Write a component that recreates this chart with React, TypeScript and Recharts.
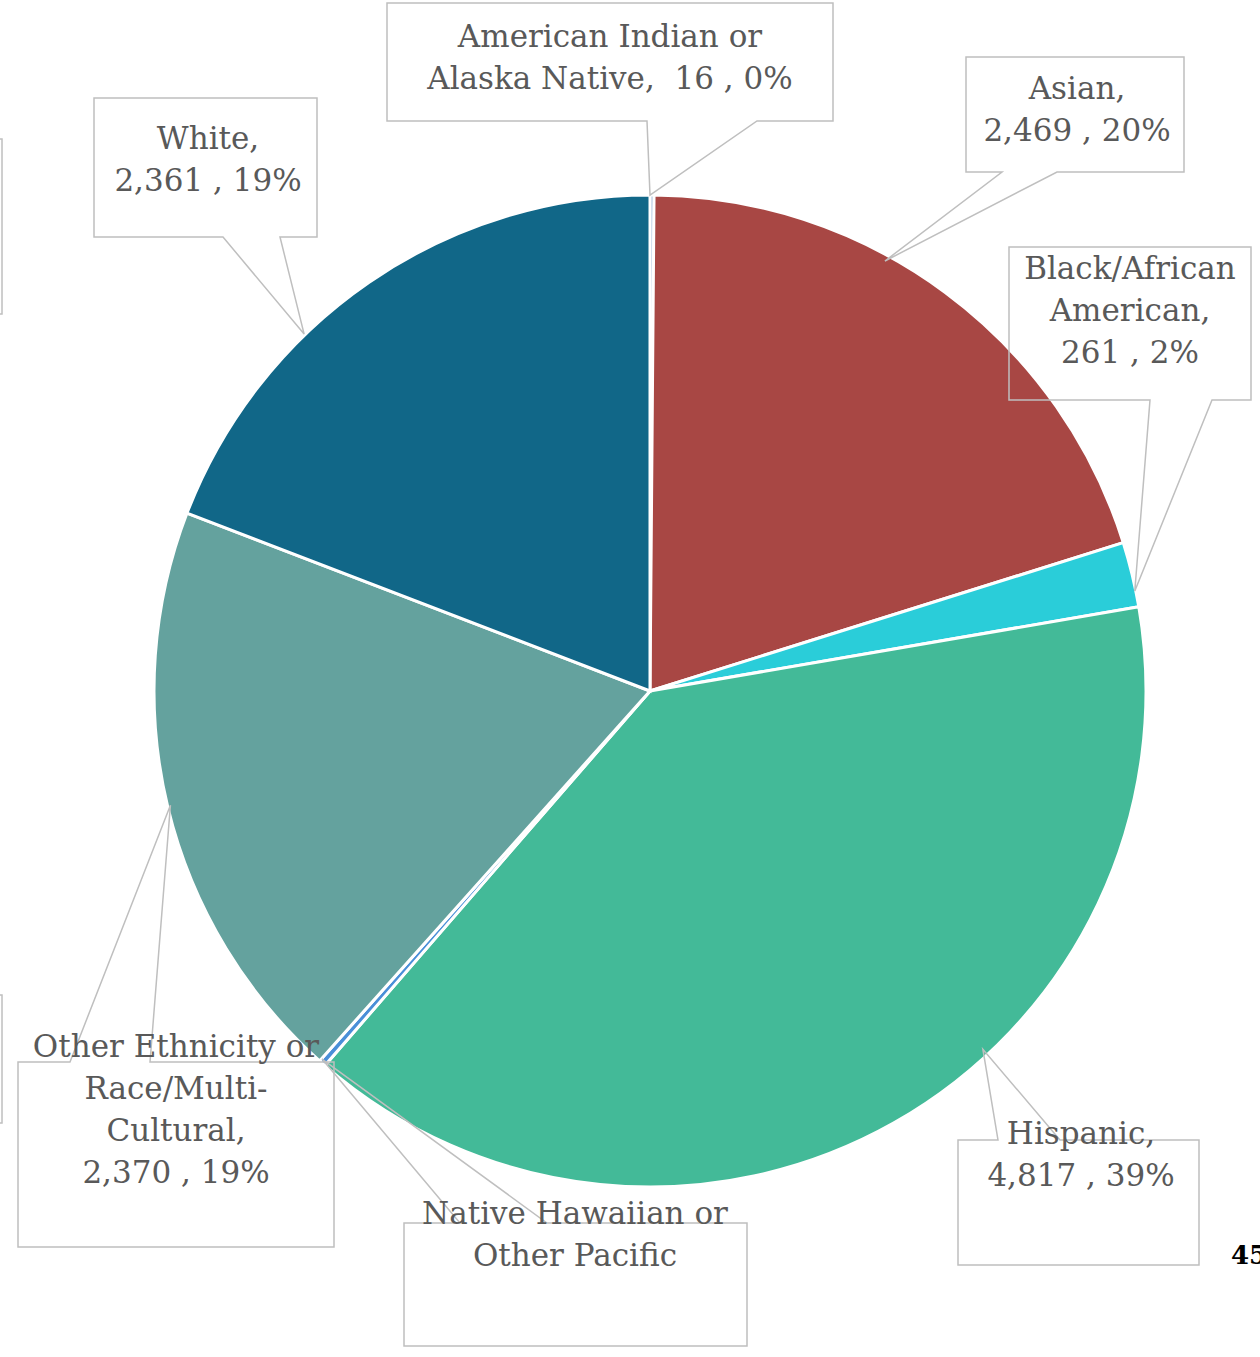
import { PieChart, Pie, Cell } from "recharts";

const categories = [
    "American Indian or Alaska Native",
    "Asian",
    "Black/African American",
    "Hispanic",
    "Native Hawaiian or Other Pacific Islander",
    "Other Ethnicity or Race/Multi-Cultural",
    "White",
];
const values = [16, 2469, 261, 4817, 28, 2370, 2361];
const colors = ["#4F81BD", "#A84744", "#2ACDD9", "#43BA98", "#4A8FD8", "#64A29E", "#116788"];
// how each label wraps; {v} gets "value , pct%"
const labelLines = [
    ["American Indian or", "Alaska Native,  {v}"],
    ["Asian,", "{v}"],
    ["Black/African", "American,", "{v}"],
    ["Hispanic,", "{v}"],
    ["Native Hawaiian or", "Other Pacific"],
    ["Other Ethnicity or", "Race/Multi-", "Cultural,", "{v}"],
    ["White,", "{v}"],
];

const data = categories.map((name, i) => ({ name, value: values[i] }));
const total = values.reduce((a, b) => a + b, 0);

// callout boxes: [x0, y0, x1, y1], which edge the wedge leaves from, wedge base x's,
// anchor (clock angle from top, radius) and text centre
const callouts = [
    { box: [387, 3, 833, 121], edge: "bottom", base: [647, 757], angle: 0, r: 496, tx: 610, ty: 36 },
    { box: [966, 57, 1184, 172], edge: "bottom", base: [1002, 1057], angle: 28.65, r: 490, tx: 1077, ty: 88 },
    { box: [1009, 247, 1251, 400], edge: "bottom", base: [1150, 1212], angle: 78.35, r: 495, tx: 1130, ty: 268 },
    { box: [958, 1140, 1199, 1265], edge: "top", base: [998, 1060], angle: 137.1, r: 489, tx: 1081, ty: 1133 },
    { box: [404, 1223, 747, 1346], edge: "top", base: [460, 547], angle: 221.7, r: 493, tx: 575, ty: 1213 },
    { box: [18, 1062, 334, 1247], edge: "top", base: [70, 150], angle: 256.6, r: 493, tx: 176, ty: 1046 },
    { box: [94, 98, 317, 237], edge: "bottom", base: [223, 280], angle: 315.9, r: 497, tx: 208, ty: 138 },
];

const FONT = "'DejaVu Serif', serif";
const LINE = "#BFBFBF";

function renderLabel(props: any) {
    const { cx, cy, index, value } = props;
    const c = callouts[index];
    const rad = (c.angle * Math.PI) / 180;
    const ax = cx + c.r * Math.sin(rad);
    const ay = cy - c.r * Math.cos(rad);
    const [x0, y0, x1, y1] = c.box;
    const [b1, b2] = c.base;
    const d =
        c.edge === "bottom"
            ? `M${x0},${y0} H${x1} V${y1} H${b2} L${ax},${ay} L${b1},${y1} H${x0} Z`
            : `M${x0},${y0} H${b1} L${ax},${ay} L${b2},${y0} H${x1} V${y1} H${x0} Z`;
    const v = `${value.toLocaleString("en-US")} , ${Math.round((value / total) * 100)}%`;
    return (
        <g key={`lbl-${index}`}>
            <path d={d} fill="none" stroke={LINE} strokeWidth={1.5} />
            <text
                x={c.tx}
                y={c.ty}
                textAnchor="middle"
                fill="#595959"
                fontFamily={FONT}
                fontSize={31}
                style={{ whiteSpace: "pre" }}
            >
                {labelLines[index].map((ln, j) => (
                    <tspan key={j} x={c.tx} y={c.ty + j * 42} dominantBaseline="central">
                        {ln.replace("{v}", v)}
                    </tspan>
                ))}
            </text>
        </g>
    );
}

export default function App() {
    return (
        <div style={{ position: "absolute", left: 0, top: 0, width: 1260, height: 1357, background: "#fff" }}>
            <PieChart width={1260} height={1357} margin={{ top: 0, right: 0, bottom: 0, left: 0 }}>
                <Pie
                    data={data}
                    dataKey="value"
                    nameKey="name"
                    cx={650}
                    cy={691}
                    outerRadius={496}
                    startAngle={90}
                    endAngle={-270}
                    stroke="#fff"
                    strokeWidth={3}
                    label={renderLabel}
                    labelLine={false}
                    isAnimationActive={false}
                >
                    {data.map((d, i) => (
                        <Cell key={d.name} fill={colors[i]} />
                    ))}
                </Pie>
            </PieChart>
            <svg
                width={1260}
                height={1357}
                style={{ position: "absolute", left: 0, top: 0, pointerEvents: "none" }}
            >
                <rect x={-100} y={139} width={102} height={175} fill="none" stroke={LINE} strokeWidth={1.5} />
                <rect x={-100} y={995} width={102} height={128} fill="none" stroke={LINE} strokeWidth={1.5} />
                <text x={1231} y={1264} fontFamily={FONT} fontWeight="bold" fontSize={26} fill="#000">
                    45
                </text>
            </svg>
        </div>
    );
}
